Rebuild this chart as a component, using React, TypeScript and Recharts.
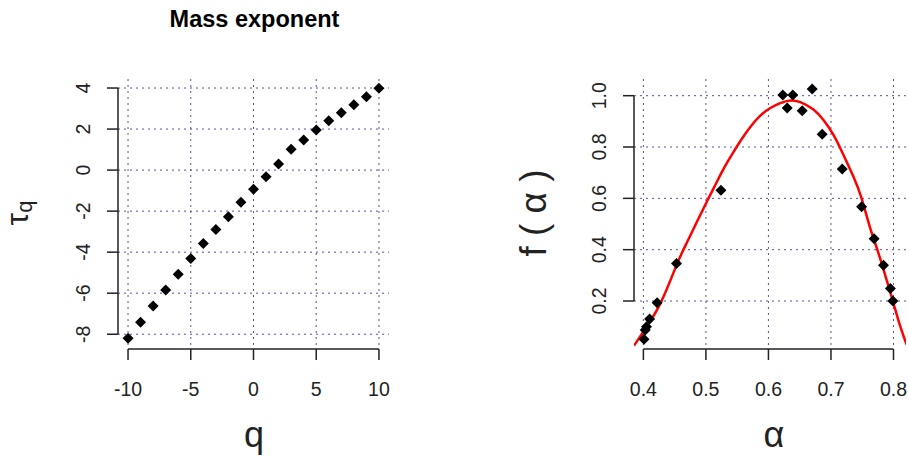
import { ComposedChart, Scatter, Line, XAxis, YAxis, CartesianGrid, ReferenceLine } from "recharts";

// mass exponent tau(q)
const Q = [-10, -9, -8, -7, -6, -5, -4, -3, -2, -1, 0, 1, 2, 3, 4, 5, 6, 7, 8, 9, 10];
const TAU = [-8.2, -7.42, -6.63, -5.85, -5.08, -4.31, -3.58, -2.9, -2.27, -1.57, -0.93, -0.32, 0.3, 1.01, 1.47, 1.95, 2.41, 2.8, 3.19, 3.58, 3.99];
const Q_TICKS = [-10, -5, 0, 5, 10];
const TAU_TICKS = [-8, -6, -4, -2, 0, 2, 4];

// singularity spectrum f(alpha): estimated points + fitted curve
const ALPHA_PTS = [0.401, 0.403, 0.405, 0.41, 0.422, 0.453, 0.524, 0.623, 0.63, 0.639, 0.654, 0.67, 0.686, 0.718, 0.749, 0.769, 0.784, 0.795, 0.799];
const F_PTS = [0.051, 0.087, 0.1, 0.13, 0.193, 0.346, 0.632, 1.003, 0.952, 1.003, 0.941, 1.026, 0.85, 0.714, 0.567, 0.443, 0.339, 0.249, 0.2];
const ALPHA_FIT = [0.385, 0.4, 0.427, 0.452, 0.47, 0.501, 0.515, 0.528, 0.544, 0.557, 0.571, 0.587, 0.603, 0.619, 0.635, 0.651, 0.672, 0.688, 0.704, 0.72, 0.736, 0.749, 0.762, 0.776, 0.789, 0.8, 0.811, 0.821];
const F_FIT = [0.026, 0.08, 0.19, 0.334, 0.43, 0.585, 0.652, 0.714, 0.78, 0.83, 0.878, 0.922, 0.952, 0.971, 0.981, 0.975, 0.946, 0.905, 0.847, 0.769, 0.684, 0.6, 0.49, 0.386, 0.282, 0.191, 0.1, 0.03];
const ALPHA_TICKS = [0.4, 0.5, 0.6, 0.7, 0.8];
const F_TICKS = [0.2, 0.4, 0.6, 0.8, 1.0];

const Q_DOMAIN = [-10.8, 10.8];
const TAU_DOMAIN = [-8.72, 4.44];
const ALPHA_DOMAIN = [0.385, 0.82];
const F_DOMAIN = [0.013, 1.065];

const massData = Q.map((q, i) => ({ x: q, y: TAU[i] }));
const specData = ALPHA_PTS.map((a, i) => ({ x: a, y: F_PTS[i] }));
const fitData = ALPHA_FIT.map((a, i) => ({ x: a, y: F_FIT[i] }));

const FONT = '"Liberation Sans", Arial, Helvetica, sans-serif';
const INK = "#222";
const GRID = "#5252a6";

const Diamond = (p: any) => (
  <polygon
    points={`${p.cx},${p.cy - 5.5} ${p.cx + 5.5},${p.cy} ${p.cx},${p.cy + 5.5} ${p.cx - 5.5},${p.cy}`}
    fill="#000"
  />
);

const XTick = ({ x, y, payload, fmt }: any) => (
  <text x={x} y={y + 34} textAnchor="middle" fontSize={19.5} fontFamily={FONT} fill={INK}>
    {fmt(payload.value)}
  </text>
);

const YTick = ({ x, y, payload, fmt }: any) => (
  <text
    x={x - 15}
    y={y}
    transform={`rotate(-90 ${x - 15} ${y})`}
    textAnchor="middle"
    fontSize={19.5}
    fontFamily={FONT}
    fill={INK}
  >
    {fmt(payload.value)}
  </text>
);

const intFmt = (v: number) => String(v);
const decFmt = (v: number) => v.toFixed(1);

export default function App() {
  return (
    <div style={{ position: "absolute", left: 0, top: 0, width: 908, height: 457, overflow: "hidden", background: "#fff" }}>
      <div style={{ position: "absolute", left: 0, top: 0 }}>
        <ComposedChart width={454} height={457} data={massData} margin={{ top: 79, right: 65, bottom: 68, left: 78 }}>
          <CartesianGrid
            stroke={GRID}
            strokeDasharray="2 4"
            horizontalValues={TAU_TICKS}
            verticalValues={Q_TICKS}
          />
          <XAxis
            type="number"
            dataKey="x"
            domain={Q_DOMAIN}
            ticks={Q_TICKS}
            allowDataOverflow
            height={40}
            axisLine={false}
            tickSize={11}
            tickLine={{ stroke: INK, strokeWidth: 1.5 }}
            tick={(p: any) => <XTick {...p} fmt={intFmt} />}
          />
          <YAxis
            type="number"
            dataKey="y"
            domain={TAU_DOMAIN}
            ticks={TAU_TICKS}
            allowDataOverflow
            width={40}
            axisLine={false}
            tickSize={11}
            tickLine={{ stroke: INK, strokeWidth: 1.5 }}
            tick={(p: any) => <YTick {...p} fmt={intFmt} />}
          />
          <ReferenceLine
            segment={[{ x: Q_TICKS[0], y: TAU_DOMAIN[0] }, { x: Q_TICKS[Q_TICKS.length - 1], y: TAU_DOMAIN[0] }]}
            stroke={INK}
            strokeWidth={1.5}
            ifOverflow="visible"
          />
          <ReferenceLine
            segment={[{ x: Q_DOMAIN[0], y: TAU_TICKS[0] }, { x: Q_DOMAIN[0], y: TAU_TICKS[TAU_TICKS.length - 1] }]}
            stroke={INK}
            strokeWidth={1.5}
            ifOverflow="visible"
          />
          <Scatter data={massData} dataKey="y" shape={Diamond} isAnimationActive={false} />
        </ComposedChart>
      </div>
      <div style={{ position: "absolute", left: 454, top: 0 }}>
        <ComposedChart width={454} height={457} margin={{ top: 79, right: 2, bottom: 68, left: 140 }}>
          <CartesianGrid
            stroke={GRID}
            strokeDasharray="2 4"
            horizontalValues={F_TICKS}
            verticalValues={ALPHA_TICKS}
          />
          <XAxis
            type="number"
            dataKey="x"
            domain={ALPHA_DOMAIN}
            ticks={ALPHA_TICKS}
            allowDataOverflow
            height={40}
            axisLine={false}
            tickSize={11}
            tickLine={{ stroke: INK, strokeWidth: 1.5 }}
            tick={(p: any) => <XTick {...p} fmt={decFmt} />}
          />
          <YAxis
            type="number"
            dataKey="y"
            domain={F_DOMAIN}
            ticks={F_TICKS}
            allowDataOverflow
            width={40}
            axisLine={false}
            tickSize={11}
            tickLine={{ stroke: INK, strokeWidth: 1.5 }}
            tick={(p: any) => <YTick {...p} fmt={decFmt} />}
          />
          <ReferenceLine
            segment={[{ x: ALPHA_TICKS[0], y: F_DOMAIN[0] }, { x: ALPHA_TICKS[ALPHA_TICKS.length - 1], y: F_DOMAIN[0] }]}
            stroke={INK}
            strokeWidth={1.5}
            ifOverflow="visible"
          />
          <ReferenceLine
            segment={[{ x: ALPHA_DOMAIN[0], y: F_TICKS[0] }, { x: ALPHA_DOMAIN[0], y: F_TICKS[F_TICKS.length - 1] }]}
            stroke={INK}
            strokeWidth={1.5}
            ifOverflow="visible"
          />
          <Scatter data={specData} dataKey="y" shape={Diamond} isAnimationActive={false} />
          <Line data={fitData} dataKey="y" type="natural" stroke="#ff0000" strokeWidth={2.5} dot={false} isAnimationActive={false} />
        </ComposedChart>
      </div>
      <svg width={908} height={457} style={{ position: "absolute", left: 0, top: 0, pointerEvents: "none" }}>
        <text x={254.5} y={27} textAnchor="middle" fontSize={23.5} fontWeight="bold" fontFamily={FONT} fill="#000">
          Mass exponent
        </text>
        <text x={254} y={447} textAnchor="middle" fontSize={36} fontFamily={FONT} fill={INK}>
          q
        </text>
        <text x={774} y={447} textAnchor="middle" fontSize={36} fontFamily={FONT} fill={INK}>
          α
        </text>
        <text transform="rotate(-90)" x={-213} y={28} textAnchor="middle" fontFamily={FONT} fill={INK}>
          <tspan fontSize={32}>τ</tspan>
          <tspan fontSize={22} dy={4}>q</tspan>
        </text>
        <text transform="rotate(-90)" x={-213} y={546} textAnchor="middle" fontSize={37} fontFamily={FONT} fill={INK}>
          f ( α )
        </text>
      </svg>
    </div>
  );
}
